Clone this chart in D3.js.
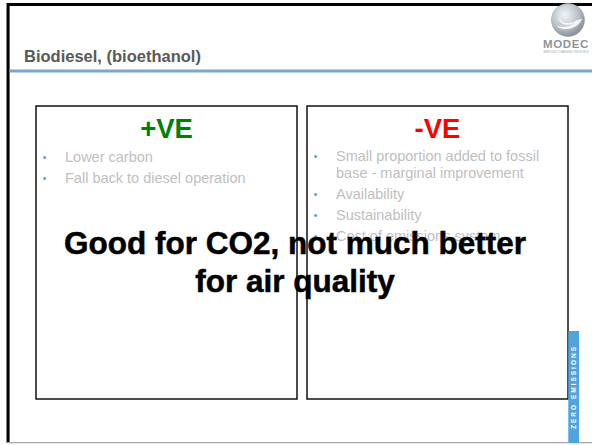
<!DOCTYPE html>
<html><head><meta charset="utf-8">
<script src="https://cdn.jsdelivr.net/npm/d3@7"></script>
<style>html,body{margin:0;padding:0;background:#fff;}svg{display:block;}</style>
</head><body>
<svg id="slide" width="592" height="445"></svg>
<script>
const title = "Biodiesel, (bioethanol)";
const panelHeads = ["+VE", "-VE"];
const panelColors = ["#008000", "#ff0000"];
const proItems = [["Lower carbon"], ["Fall back to diesel operation"]];
const conItems = [["Small proportion added to fossil", "base - marginal improvement"], ["Availability"], ["Sustainability"], ["Cost of emissions system"]];
const headline = ["Good for CO2, not much better", "for air quality"];
const stripText = "ZERO EMISSIONS";
const logoText = "MODEC";
const logoSub = "SERIOUSLY CHANGING THE WORLD";

const svg = d3.select("#slide");
const F = "'Liberation Sans', Arial, Helvetica, sans-serif";

// gradient for logo
const defs = svg.append("defs");
const rg = defs.append("radialGradient").attr("id","lg").attr("cx","40%").attr("cy","35%").attr("r","70%");
rg.append("stop").attr("offset","0%").attr("stop-color","#f4f6f8");
rg.append("stop").attr("offset","60%").attr("stop-color","#b9c0c6");
rg.append("stop").attr("offset","100%").attr("stop-color","#7d858c");

// slide frame
svg.append("rect").attr("x",7).attr("y",3).attr("width",600).attr("height",3).attr("fill","#000");
svg.append("rect").attr("x",7).attr("y",3).attr("width",2.6).attr("height",440).attr("fill","#000");
svg.append("rect").attr("x",6).attr("y",3).attr("width",1).attr("height",440).attr("fill","#888");
svg.append("rect").attr("x",7).attr("y",442).attr("width",600).attr("height",1.3).attr("fill","#aaa");

// header
svg.append("text").attr("x",24).attr("y",62).attr("font-family",F).attr("font-weight","bold")
  .attr("font-size",16.5).attr("fill","#595959").text(title);
svg.append("rect").attr("x",9.6).attr("y",69.5).attr("width",590).attr("height",3).attr("fill","#7ea6cb");

// logo
const lg = svg.append("g").attr("transform","translate(568,20)");
lg.append("circle").attr("r",16.5).attr("fill","url(#lg)");
lg.append("path").attr("d","M-3,-13 C-12,-8 -10,2 -2,3 C6,4 9,-2 14,-1 C10,9 -4,12 -12,6 C-4,8 4,6 7,2 C0,8 -11,4 -9,-5 C-8,-10 -5,-12 -3,-13 Z")
  .attr("fill","#ffffff").attr("opacity",0.85);
lg.append("circle").attr("r",16.5).attr("fill","none").attr("stroke","#9aa2a8").attr("stroke-width",0.6);
svg.append("text").attr("x",566).attr("y",48).attr("text-anchor","middle").attr("font-family",F)
  .attr("font-weight","bold").attr("font-size",11.5).attr("letter-spacing",0.6).attr("fill","#8e959a").text(logoText);
svg.append("text").attr("x",566).attr("y",53).attr("text-anchor","middle").attr("font-family",F)
  .attr("font-size",2.6).attr("fill","#9aa").text(logoSub);

// panels
const panelX = d3.scaleOrdinal().domain([0,1]).range([36, 307]);
const panelW = 261, panelTop = 106, panelBottom = 399;
const panels = [proItems, conItems];
panels.forEach((items, i) => {
  const x0 = panelX(i);
  svg.append("rect").attr("x",x0).attr("y",panelTop).attr("width",panelW).attr("height",panelBottom-panelTop)
    .attr("fill","none").attr("stroke","#000").attr("stroke-width",1.4);
  svg.append("text").attr("x",x0+panelW/2).attr("y",138).attr("text-anchor","middle").attr("font-family",F)
    .attr("font-weight","bold").attr("font-size",27.5).attr("fill",panelColors[i]).text(panelHeads[i]);
  let y = i === 0 ? 162 : 161;
  items.forEach(lines => {
    svg.append("text").attr("x",x0+8.5).attr("y",y-1).attr("text-anchor","middle").attr("font-family",F)
      .attr("font-size",10).attr("fill","#5b8fc4").text("•");
    lines.forEach((ln, k) => {
      svg.append("text").attr("x",x0+29).attr("y",y + k*16.5).attr("font-family",F)
        .attr("font-size",14.5).attr("fill","#c0c0c0").text(ln);
    });
    y += (lines.length-1)*16.5 + 21;
  });
});

// blue strip
svg.append("rect").attr("x",568.3).attr("y",331).attr("width",10.7).attr("height",112).attr("fill","#4fa3de");
svg.append("text").attr("transform","translate(576,387) rotate(-90)").attr("text-anchor","middle")
  .attr("font-family",F).attr("font-weight","bold").attr("font-size",6.5).attr("letter-spacing",2)
  .attr("fill","#ffffff").text(stripText);

// headline
headline.forEach((ln, k) => {
  svg.append("text").attr("x",295).attr("y",253.5 + k*38.5).attr("text-anchor","middle").attr("font-family",F)
    .attr("font-weight","bold").attr("font-size",31.5).attr("fill","#000")
    .attr("stroke","#000").attr("stroke-width",0.5).text(ln);
});
</script>
</body></html>
